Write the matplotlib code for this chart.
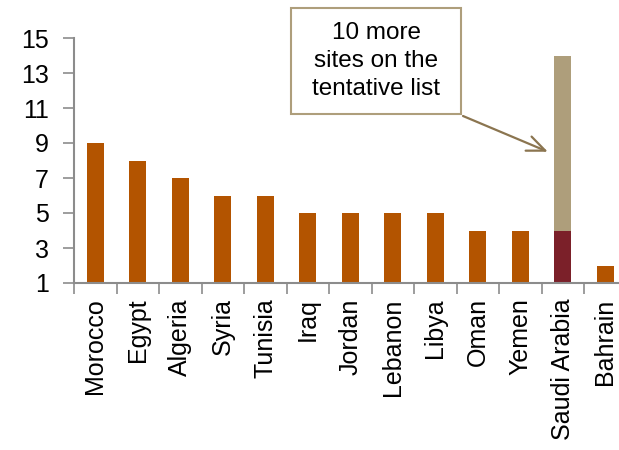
import matplotlib
matplotlib.use("Agg")
import matplotlib.pyplot as plt
from matplotlib.patches import Rectangle
import numpy as np

plt.rcParams['font.family'] = ['Liberation Sans', 'DejaVu Sans']

# Data
countries = ["Morocco", "Egypt", "Algeria", "Syria", "Tunisia", "Iraq", "Jordan",
             "Lebanon", "Libya", "Oman", "Yemen", "Saudi Arabia", "Bahrain"]
sites = [9, 8, 7, 6, 6, 5, 5, 5, 5, 4, 4, 4, 2]
tentative = [0, 0, 0, 0, 0, 0, 0, 0, 0, 0, 0, 10, 0]
y_ticks = [1, 3, 5, 7, 9, 11, 13, 15]

orange = '#B35400'
darkred = '#7B2029'
tan = '#AE9E7B'
gray = '#8C8C8C'

W, H = 619, 450
fig = plt.figure(figsize=(W / 100, H / 100), dpi=100)
ax = fig.add_axes([74 / W, 167 / H, 552.5 / W, 245 / H])

x = np.arange(len(countries))
colors = [darkred if t > 0 else orange for t in tentative]
ax.bar(x, sites, width=0.4, color=colors, zorder=2)
ax.bar(x, tentative, width=0.4, bottom=sites, color=tan, zorder=2)

ax.set_xlim(-0.5, len(countries) - 0.5)
ax.set_ylim(1, 15)
ax.set_yticks(y_ticks)
ax.tick_params(axis='y', labelsize=18, length=8, width=1.2, color=gray, pad=10)

# category labels centred, ticks between categories
ax.set_xticks(x)
ax.set_xticklabels(countries, rotation=90, fontsize=18)
ax.tick_params(axis='x', which='major', length=0, pad=11)
ax.set_xticks(np.arange(len(countries) + 1) - 0.5, minor=True)
ax.tick_params(axis='x', which='minor', length=8, width=1.2, color=gray)

for s in ['top', 'right']:
    ax.spines[s].set_visible(False)
for s in ['left', 'bottom']:
    ax.spines[s].set_color(gray)
    ax.spines[s].set_linewidth(1.5)

# callout box (figure pixels -> fraction)
bx0, by0, bx1, by1 = 291, 8, 461, 114
fig.patches.append(Rectangle((bx0 / W, 1 - by1 / H), (bx1 - bx0) / W, (by1 - by0) / H,
                             transform=fig.transFigure, fc='white', ec=tan, lw=1.5))
fig.text((bx0 + bx1) / 2 / W, 1 - 61 / H, "10 more\nsites on the\ntentative list",
         ha='center', va='center', fontsize=17.5, linespacing=1.36)

ax.annotate("", xy=(10.65, 8.5), xycoords='data',
            xytext=((bx1 + 2) / W, 1 - (by1 + 2) / H), textcoords='figure fraction',
            arrowprops=dict(arrowstyle='->,head_length=1.3,head_width=0.55',
                            color='#8B7550', lw=1.6, shrinkA=0, shrinkB=0))

fig.savefig("out.png", dpi=100)
